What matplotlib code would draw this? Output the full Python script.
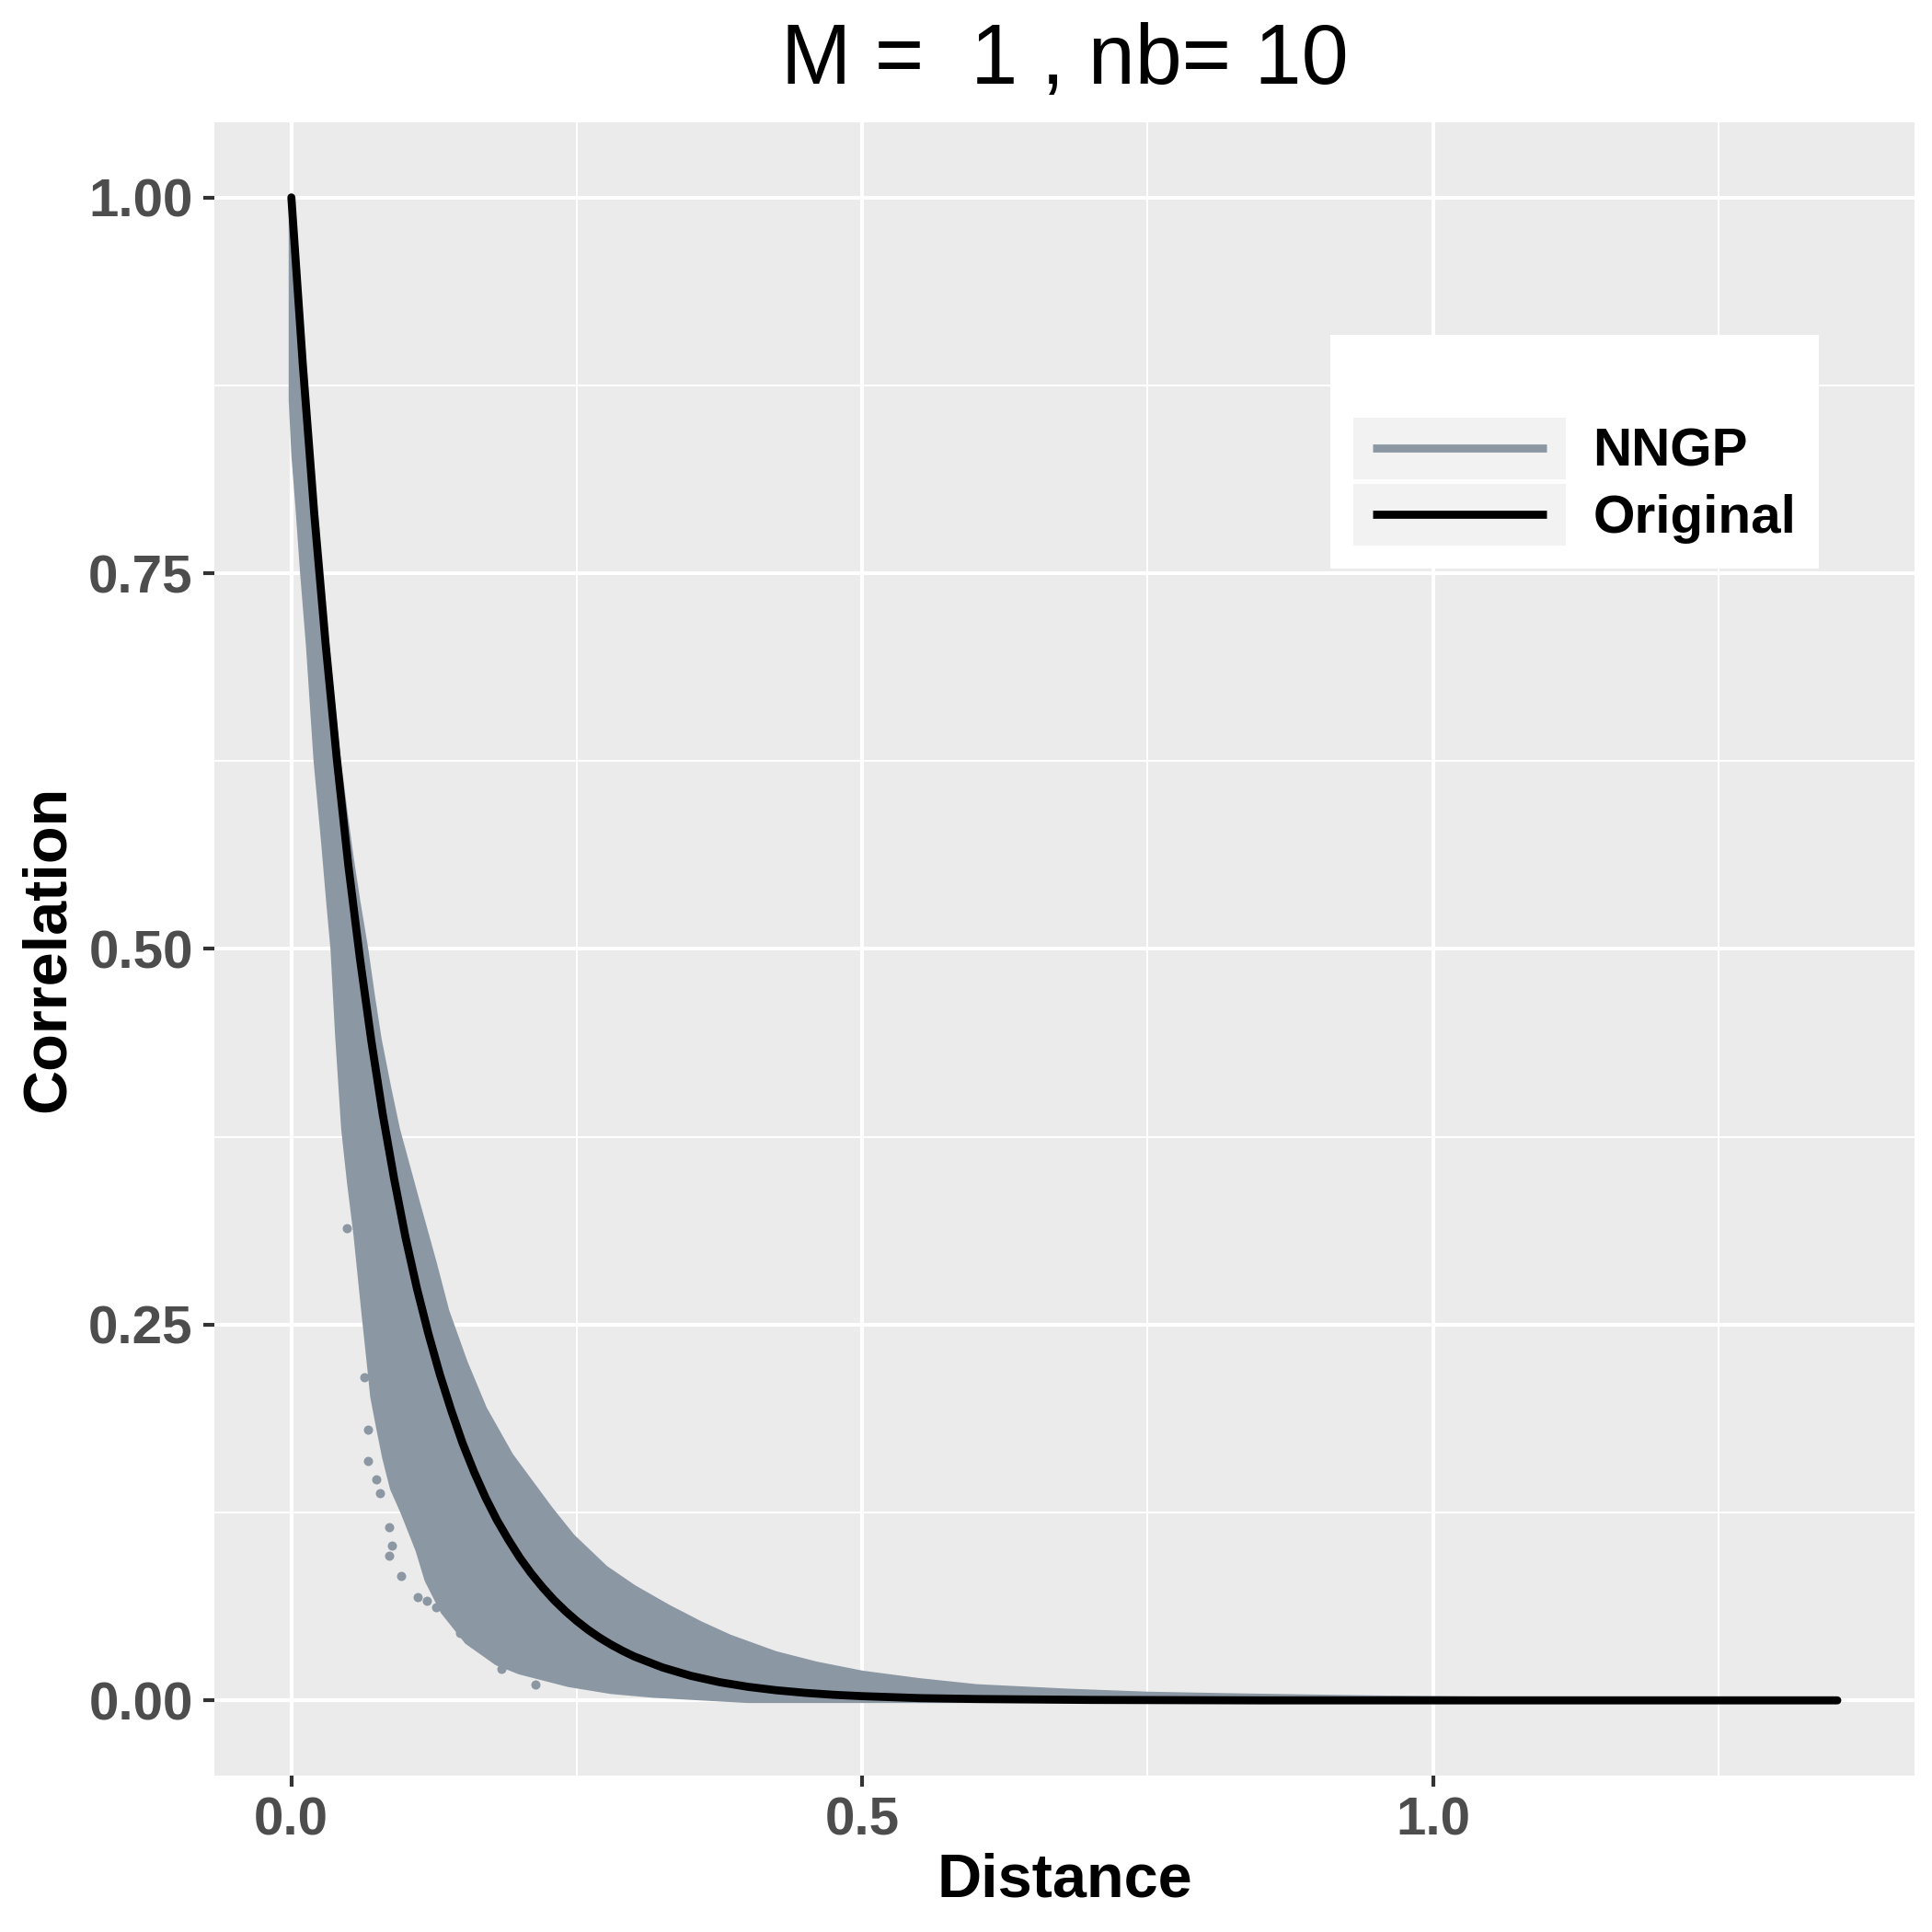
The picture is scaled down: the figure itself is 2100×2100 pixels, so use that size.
import numpy as np
import matplotlib
matplotlib.use("Agg")
import matplotlib.pyplot as plt
from matplotlib.lines import Line2D
from matplotlib.patches import Rectangle
from matplotlib.legend_handler import HandlerBase

plt.rcParams['font.family'] = ['Liberation Sans', 'DejaVu Sans']

# values
# "Original" correlation curve
dist_orig = [0.00, 0.01, 0.02, 0.03, 0.04, 0.05, 0.06, 0.07, 0.08, 0.09,
             0.10, 0.11, 0.12, 0.13, 0.14, 0.15, 0.16, 0.17, 0.18, 0.19,
             0.20, 0.21, 0.22, 0.23, 0.24, 0.25, 0.26, 0.27, 0.28, 0.29,
             0.30, 0.325, 0.35, 0.375, 0.40, 0.425, 0.45, 0.475, 0.50, 0.55,
             0.60, 0.70, 0.85, 1.0, 1.354]
corr_orig = [1.000, 0.889, 0.790, 0.703, 0.625, 0.555, 0.494, 0.439, 0.390, 0.347,
             0.308, 0.274, 0.244, 0.217, 0.193, 0.171, 0.152, 0.135, 0.120, 0.107,
             0.095, 0.0845, 0.0752, 0.0668, 0.0594, 0.0528, 0.0469, 0.0417, 0.0371, 0.0330,
             0.0293, 0.0219, 0.0163, 0.0121, 0.0090, 0.0067, 0.0050, 0.0037, 0.0028, 0.0015,
             0.0009, 0.0003, 0.0, 0.0, 0.0]

# NNGP cloud: upper and lower envelope of the scatter
nngp_up_x = [0, 0.01, 0.02, 0.03, 0.04, 0.047, 0.052, 0.058, 0.065, 0.071,
             0.0767, 0.085, 0.0928, 0.110, 0.125, 0.136, 0.152, 0.169, 0.192, 0.227,
             0.246, 0.275, 0.30, 0.33, 0.358, 0.384, 0.424, 0.46, 0.5, 0.55,
             0.6, 0.68, 0.75, 0.82, 0.887, 0.95, 1.05, 1.354]
nngp_up_y = [1.0, 0.893, 0.795, 0.708, 0.632, 0.590, 0.562, 0.532, 0.50, 0.468,
             0.440, 0.408, 0.38, 0.332, 0.291, 0.259, 0.225, 0.194, 0.163, 0.127,
             0.109, 0.088, 0.075, 0.062, 0.051, 0.042, 0.031, 0.024, 0.018, 0.013,
             0.009, 0.006, 0.004, 0.003, 0.0022, 0.0015, 0.0007, 0.0]
nngp_lo_x = [0, 0.0024, 0.006, 0.010, 0.0151, 0.0218, 0.0285, 0.033, 0.0366, 0.0406,
             0.046, 0.051, 0.0567, 0.0634, 0.0687, 0.0714, 0.0767, 0.082, 0.0887, 0.098,
             0.111, 0.119, 0.133, 0.154, 0.18, 0.2, 0.243, 0.28, 0.317, 0.4, 1.354]
nngp_lo_y = [0.865, 0.828, 0.793, 0.75, 0.702, 0.625, 0.57, 0.53, 0.50, 0.443,
             0.38, 0.345, 0.31, 0.26, 0.222, 0.202, 0.181, 0.161, 0.141, 0.125,
             0.100, 0.080, 0.059, 0.039, 0.025, 0.019, 0.0106, 0.006, 0.0035, 0.0, 0.0]

# stray NNGP points below the cloud
out_x = [0.0486, 0.0642, 0.0674, 0.0669, 0.0747, 0.0777, 0.0857, 0.0855, 0.0877,
         0.0965, 0.1105, 0.1186, 0.127, 0.148, 0.154, 0.184, 0.214]
out_y = [0.3144, 0.215, 0.180, 0.159, 0.147, 0.138, 0.115, 0.096, 0.103,
         0.083, 0.069, 0.066, 0.062, 0.045, 0.041, 0.021, 0.0106]

title = "M =  1 , nb= 10"
nngp_col = '#8C97A4'
key_bg = '#F2F2F2'


class KeyHandler(HandlerBase):
    # ggplot-like legend key: grey box with a shorter line on it
    def create_artists(self, legend, orig_handle, xdescent, ydescent,
                       width, height, fontsize, trans):
        bg = Rectangle((-xdescent, -ydescent), width, height,
                       facecolor=key_bg, edgecolor='none', transform=trans)
        inset = 0.09 * width
        yc = -ydescent + height / 2
        ln = Line2D([-xdescent + inset, -xdescent + width - inset], [yc, yc],
                    color=orig_handle.get_color(), lw=orig_handle.get_linewidth(),
                    solid_capstyle='butt', transform=trans)
        return [bg, ln]


fig = plt.figure(figsize=(7, 7), dpi=300)
ax = fig.add_axes([0.1108, 0.081, 0.8802, 0.8557])
ax.set_facecolor('#EBEBEB')
for s in ax.spines.values():
    s.set_visible(False)

# NNGP band as a polygon: upper edge, then lower edge backwards
poly_x = np.concatenate([nngp_up_x, nngp_lo_x[::-1]])
poly_y = np.concatenate([nngp_up_y, nngp_lo_y[::-1]])
ax.fill(poly_x, poly_y, color=nngp_col, lw=1.4, ec=nngp_col, zorder=2)
ax.plot(out_x, out_y, 'o', color=nngp_col, ms=2.4, mew=0, zorder=2)

ax.plot(dist_orig, corr_orig, color='black', lw=2.1, solid_capstyle='round',
        solid_joinstyle='round', zorder=3)

ax.set_xlim(-0.0677, 1.4217)
ax.set_ylim(-0.05, 1.05)
ax.set_xticks([0, 0.5, 1.0])
ax.set_xticklabels(['0.0', '0.5', '1.0'])
ax.set_yticks([0, 0.25, 0.5, 0.75, 1.0])
ax.set_yticklabels(['0.00', '0.25', '0.50', '0.75', '1.00'])
ax.set_xticks([0.25, 0.75, 1.25], minor=True)
ax.set_yticks([0.125, 0.375, 0.625, 0.875], minor=True)
ax.grid(which='major', color='white', lw=1.0, zorder=0)
ax.grid(which='minor', color='white', lw=0.5, zorder=0)
ax.set_axisbelow(True)
ax.tick_params(which='major', length=2.9, width=1.0, color='#333333',
               labelsize=14, labelcolor='#4D4D4D', pad=2.6)
ax.tick_params(which='minor', length=0)
for lab in ax.get_xticklabels() + ax.get_yticklabels():
    lab.set_fontweight('bold')

ax.set_xlabel('Distance', fontsize=16, fontweight='bold', labelpad=1.5)
ax.set_ylabel('Correlation', fontsize=16, fontweight='bold', labelpad=3)
ax.set_title(title, fontsize=22, pad=10)

h1 = Line2D([], [], color=nngp_col, lw=2.1)
h2 = Line2D([], [], color='black', lw=2.1)
leg = ax.legend([h1, h2], ['NNGP', 'Original'],
                handler_map={Line2D: KeyHandler()},
                title=' ', title_fontsize=15.5,
                loc='upper left', bbox_to_anchor=(0.6565, 0.8715), borderaxespad=0,
                prop={'weight': 'bold', 'size': 14},
                handlelength=3.96, handleheight=1.39, labelspacing=0.086,
                handletextpad=0.5, borderpad=0.43,
                frameon=True, fancybox=False, framealpha=1,
                facecolor='white', edgecolor='none')

fig.savefig('out.png', dpi=300)
